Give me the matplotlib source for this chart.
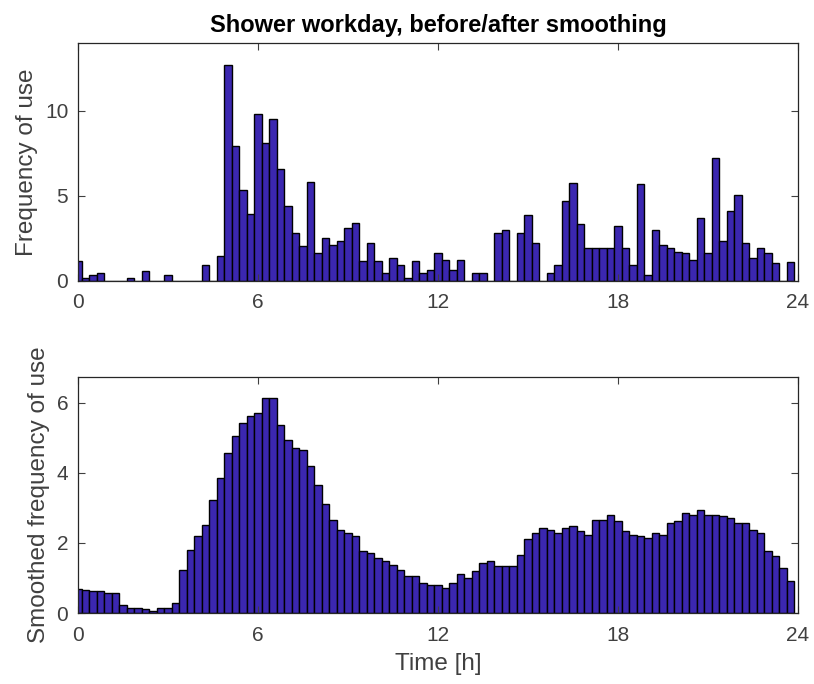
import numpy as np
import matplotlib
matplotlib.use("Agg")
import matplotlib.pyplot as plt

plt.rcParams['font.family'] = ['Liberation Sans', 'DejaVu Sans']

# 15-minute slots over a day
hours = np.arange(96) * 0.25

freq = [1.15, 0.15, 0.33, 0.47, 0, 0, 0, 0.18, 0, 0.57, 0, 0, 0.35, 0, 0, 0,
        0, 0.96, 0, 1.44, 12.7, 7.93, 5.37, 3.92, 9.8, 8.11, 9.5, 6.57, 4.43, 2.83, 2.03, 5.79,
        1.63, 2.52, 2.13, 2.34, 3.11, 3.41, 1.16, 2.24, 1.16, 0.45, 1.34, 0.96, 0.16, 1.16, 0.45, 0.65,
        1.63, 1.26, 0.65, 1.26, 0, 0.45, 0.45, 0, 2.81, 3.01, 0, 2.81, 3.9, 2.24, 0, 0.45,
        0.94, 4.7, 5.77, 3.33, 1.93, 1.93, 1.93, 1.93, 3.23, 1.93, 0.94, 5.67, 0.33, 3.01, 2.13, 1.93,
        1.73, 1.63, 1.24, 3.7, 1.63, 7.24, 2.32, 4.09, 5.08, 2.24, 1.34, 1.93, 1.63, 1.04, 0, 1.14]

smooth = [0.69, 0.67, 0.62, 0.62, 0.58, 0.58, 0.24, 0.14, 0.14, 0.10, 0.06, 0.14, 0.14, 0.29, 1.24, 1.81,
          2.19, 2.52, 3.24, 3.86, 4.57, 5.05, 5.43, 5.62, 5.71, 6.14, 6.14, 5.38, 4.95, 4.71, 4.67, 4.19,
          3.67, 3.10, 2.67, 2.38, 2.29, 2.19, 1.76, 1.71, 1.57, 1.48, 1.38, 1.24, 1.05, 1.05, 0.86, 0.81,
          0.81, 0.71, 0.86, 1.10, 1.00, 1.19, 1.43, 1.48, 1.33, 1.33, 1.33, 1.67, 2.10, 2.29, 2.43, 2.38,
          2.29, 2.43, 2.48, 2.33, 2.24, 2.67, 2.67, 2.81, 2.62, 2.33, 2.24, 2.19, 2.14, 2.29, 2.24, 2.57,
          2.62, 2.86, 2.81, 2.95, 2.81, 2.81, 2.76, 2.71, 2.57, 2.57, 2.38, 2.29, 1.76, 1.62, 1.29, 0.90]

xticks = [0, 6, 12, 18, 24]
bar_col = '#3b27b0'
txt_col = '#404040'

fig = plt.figure(figsize=(8.14, 6.84), dpi=100)
ax1 = fig.add_axes([0.0958, 0.5892, 0.8845, 0.3484])
ax2 = fig.add_axes([0.0958, 0.1038, 0.8845, 0.3455])

for ax, vals, top in [(ax1, freq, 14), (ax2, smooth, 6.75)]:
    ax.bar(hours, vals, width=0.25, color=bar_col, edgecolor='black', linewidth=1.0)
    ax.set_xlim(0, 24)
    ax.set_ylim(0, top)
    ax.set_xticks(xticks)
    ax.tick_params(direction='in', top=True, right=True, length=5, width=0.8,
                   labelsize=15, colors=txt_col, pad=7)
    ax.tick_params(axis='x', pad=9)
    for s in ax.spines.values():
        s.set_color('#262626')
        s.set_linewidth(0.9)

ax1.set_yticks([0, 5, 10])
ax2.set_yticks([0, 2, 4, 6])

ax1.set_title('Shower workday, before/after smoothing', fontsize=17, fontweight='bold', pad=8)
ax1.set_ylabel('Frequency of use', fontsize=17.5, color=txt_col, labelpad=5)
ax2.set_ylabel('Smoothed frequency of use', fontsize=17.5, color=txt_col, labelpad=5)
ax2.set_xlabel('Time [h]', fontsize=17.5, color=txt_col, labelpad=6)

fig.savefig('out.png', dpi=100)
